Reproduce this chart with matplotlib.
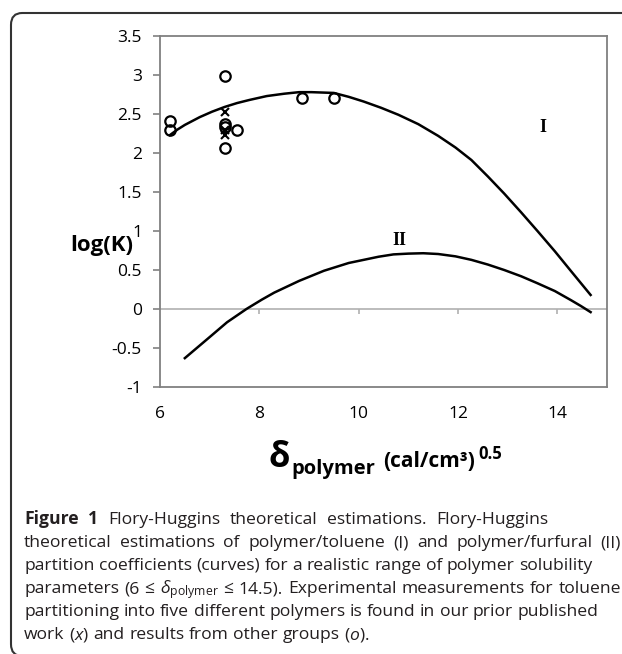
import matplotlib
matplotlib.use("Agg")
import matplotlib.pyplot as plt
from matplotlib.patches import FancyBboxPatch

# curve I: polymer/toluene, curve II: polymer/furfural
curve1_x = [6.2, 6.35, 6.5, 6.8, 7.05, 7.3, 7.55, 7.8, 8.15, 8.5, 8.8, 9.05, 9.5, 9.8, 10.1,
            10.45, 10.8, 11.2, 11.6, 11.95, 12.27, 12.6, 12.93, 13.27, 13.6, 13.95, 14.27, 14.67]
curve1_y = [2.23, 2.30, 2.36, 2.46, 2.53, 2.59, 2.64, 2.68, 2.73, 2.76, 2.78, 2.78, 2.77, 2.72, 2.66,
            2.58, 2.49, 2.37, 2.22, 2.07, 1.91, 1.70, 1.48, 1.24, 1.00, 0.74, 0.49, 0.18]
curve2_x = [6.5, 7.0, 7.35, 7.74, 8.05, 8.3, 8.8, 9.3, 9.8, 10.4, 10.7, 11.0, 11.3, 11.6,
            11.95, 12.27, 12.6, 12.93, 13.27, 13.6, 13.95, 14.27, 14.47, 14.67]
curve2_y = [-0.63, -0.36, -0.17, 0.0, 0.12, 0.21, 0.36, 0.49, 0.59, 0.67, 0.70, 0.71, 0.715, 0.705,
            0.675, 0.63, 0.57, 0.50, 0.42, 0.33, 0.23, 0.115, 0.04, -0.04]

# experimental points: other groups (o), own work (x)
other_x = [6.2, 6.2, 7.3, 7.3, 7.3, 7.3, 7.55, 8.85, 9.5]
other_y = [2.41, 2.29, 2.99, 2.37, 2.33, 2.06, 2.29, 2.71, 2.71]
own_x = [7.3, 7.3, 7.3]
own_y = [2.52, 2.30, 2.23]

xticks = [6, 8, 10, 12, 14]
yticks = [-1, -0.5, 0, 0.5, 1, 1.5, 2, 2.5, 3, 3.5]
ytick_labels = ['-1', '-0.5', '0', '0.5', '1', '1.5', '2', '2.5', '3', '3.5']

caption = [
    # (words, right edge in px or None for ragged)
    (['**Figure', '**1', 'Flory-Huggins', 'theoretical', 'estimations.', 'Flory-Huggins'], 548),
    (['theoretical', 'estimations', 'of', 'polymer/toluene', '(I)', 'and', 'polymer/furfural', '(II)'], 621),
    (['partition', 'coefficients', '(curves)', 'for', 'a', 'realistic', 'range', 'of', 'polymer', 'solubility'], 586),
    (['parameters', '(6', '≤', r'$\delta_{\rm polymer}$', '≤', '14.5).', 'Experimental', 'measurements',
      'for', 'toluene'], 621),
    (['partitioning', 'into', 'five', 'different', 'polymers', 'is', 'found', 'in', 'our', 'prior',
      'published'], 582),
    (['work', '($x$)', 'and', 'results', 'from', 'other', 'groups', '($o$).'], None),
]

plt.rcParams['mathtext.fontset'] = 'custom'
plt.rcParams['mathtext.rm'] = 'Open Sans'
plt.rcParams['mathtext.it'] = 'Open Sans:italic'

W, H = 622, 654
fig = plt.figure(figsize=(W / 100, H / 100), dpi=100)

def fx(px):
    return px / W

def fy(py):
    return 1 - py / H

ax = fig.add_axes([fx(160), fy(387), fx(607) - fx(160), fy(36) - fy(387)])
ax.set_xlim(6, 15)
ax.set_ylim(-1, 3.5)

grey = '#808080'
for s in ax.spines.values():
    s.set_color(grey)
    s.set_linewidth(1.3)

ax.axhline(0, color='#b0b0b0', lw=1.2, zorder=1)
ax.vlines(xticks[1:], -0.06, 0, color='#b0b0b0', lw=1.2, zorder=1)

ax.plot(curve1_x, curve1_y, color='black', lw=1.8, zorder=3, solid_joinstyle='round')
ax.plot(curve2_x, curve2_y, color='black', lw=1.8, zorder=3, solid_joinstyle='round')
ax.plot(other_x, other_y, 'o', mfc='none', mec='black', mew=1.6, ms=7.5, zorder=4)
ax.plot(own_x, own_y, 'x', color='black', mew=1.5, ms=6, zorder=4)

ax.text(13.71, 2.33, 'I', family='Liberation Serif', weight='bold', fontsize=13,
        ha='center', va='center')
ax.text(10.83, 0.88, 'II', family='Liberation Serif', weight='bold', fontsize=13,
        ha='center', va='center')

ax.set_xticks(xticks)
ax.set_yticks(yticks)
ax.set_yticklabels(ytick_labels)
ax.tick_params(axis='x', length=0, pad=14, labelsize=12.5)
ax.tick_params(axis='y', length=5, width=1.2, color=grey, direction='out', pad=8, labelsize=12.5)
for lab in ax.get_xticklabels() + ax.get_yticklabels():
    lab.set_family('Open Sans')

# axis titles
fig.text(fx(70), fy(245), 'log(K)', family='Open Sans', weight='bold', fontsize=16,
         ha='left', va='center')
fig.text(fx(268), fy(467), 'δ', family='Open Sans', weight='bold', fontsize=25,
         ha='left', va='baseline')
fig.text(fx(291), fy(474), 'polymer', family='Open Sans', weight='bold', fontsize=14.5,
         ha='left', va='baseline')
fig.text(fx(383), fy(467), '(cal/cm³)', family='Open Sans', weight='bold', fontsize=15,
         ha='left', va='baseline')
fig.text(fx(478), fy(459), '0.5', family='Open Sans', weight='bold', fontsize=12,
         ha='left', va='baseline')

# frame around figure + caption
frame = FancyBboxPatch((fx(11), fy(656)), fx(650) - fx(11), fy(13) - fy(656),
                       boxstyle='round,pad=0,rounding_size=0.018',
                       transform=fig.transFigure, fill=False, ec='#333333', lw=1.5)
fig.patches.append(frame)

renderer = fig.canvas.get_renderer()
cap_size = 12.6
x_left = 24
base = 524
for words, right in caption:
    items = []
    for w in words:
        bold = w.startswith('**')
        t = fig.text(0, 0, w.lstrip('*'), family='Open Sans', fontsize=cap_size,
                     weight='bold' if bold else 'normal', color='#231f20',
                     ha='left', va='baseline')
        items.append((t, t.get_window_extent(renderer).width))
    space = fig.text(0, 0, 'a b', family='Open Sans', fontsize=cap_size).get_window_extent(renderer).width
    space -= fig.text(0, 0, 'ab', family='Open Sans', fontsize=cap_size).get_window_extent(renderer).width
    fig.texts[-2:] = []
    total = sum(wd for _, wd in items)
    if right is None:
        gap = space
    else:
        gap = max(space, (right - x_left - total) / (len(items) - 1))
    x = x_left
    for t, wd in items:
        t.set_position((fx(x), fy(base)))
        x += wd + gap
    base += 23

fig.savefig('out.png', dpi=100)
